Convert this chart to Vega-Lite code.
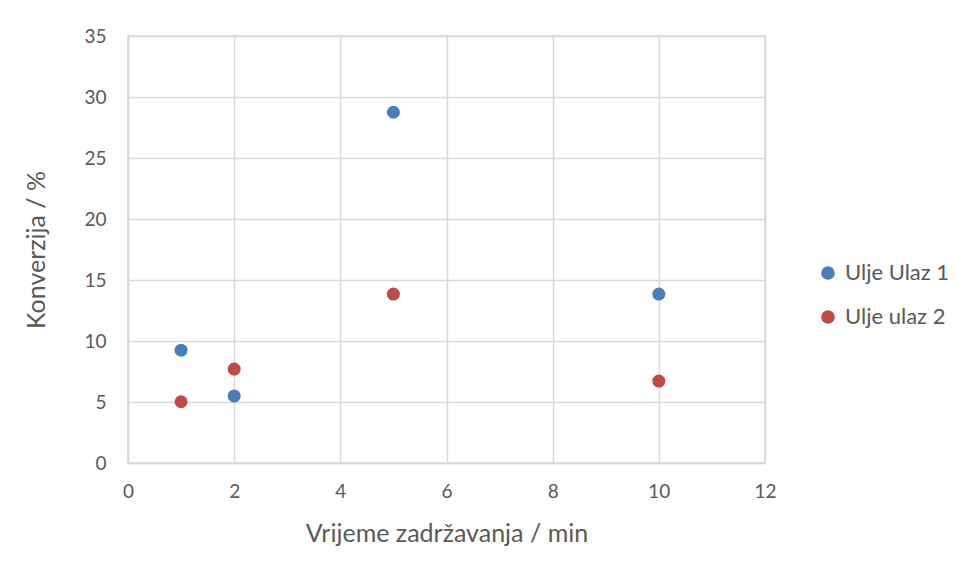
{
  "$schema": "https://vega.github.io/schema/vega-lite/v6.json",
  "width": 637,
  "height": 427,
  "autosize": {"type": "none"},
  "padding": {"left": 128, "top": 36, "right": 191, "bottom": 115},
  "background": "white",
  "data": {
    "values": [
      {"t": 1, "k": 9.25, "s": "Ulje Ulaz 1"},
      {"t": 2, "k": 5.5, "s": "Ulje Ulaz 1"},
      {"t": 5, "k": 28.75, "s": "Ulje Ulaz 1"},
      {"t": 10, "k": 13.85, "s": "Ulje Ulaz 1"},
      {"t": 1, "k": 5.02, "s": "Ulje ulaz 2"},
      {"t": 2, "k": 7.7, "s": "Ulje ulaz 2"},
      {"t": 5, "k": 13.85, "s": "Ulje ulaz 2"},
      {"t": 10, "k": 6.72, "s": "Ulje ulaz 2"}
    ]
  },
  "mark": {"type": "circle", "size": 170, "opacity": 1},
  "encoding": {
    "x": {
      "field": "t", "type": "quantitative",
      "scale": {"domain": [0, 12], "nice": false},
      "axis": {"values": [0, 2, 4, 6, 8, 10, 12], "title": "Vrijeme zadržavanja / min", "titlePadding": 20, "labelFlush": false, "labelPadding": 19}
    },
    "y": {
      "field": "k", "type": "quantitative",
      "scale": {"domain": [0, 35], "nice": false},
      "axis": {"values": [0, 5, 10, 15, 20, 25, 30, 35], "title": "Konverzija / %", "titlePadding": 34, "labelPadding": 22}
    },
    "color": {
      "field": "s", "type": "nominal",
      "scale": {"domain": ["Ulje Ulaz 1", "Ulje ulaz 2"], "range": ["#4a7ebb", "#be4b48"]},
      "legend": {
        "title": null, "orient": "none", "legendX": 689, "legendY": 226,
        "symbolType": "circle", "symbolSize": 185, "symbolOpacity": 1,
        "labelFontSize": 22, "labelColor": "#595959", "labelFont": "Lato",
        "rowPadding": 22, "labelOffset": 6
      }
    }
  },
  "config": {
    "view": {"stroke": "#d9d9d9", "strokeWidth": 1.5},
    "axis": {
      "grid": true, "gridColor": "#d9d9d9", "gridWidth": 1.5,
      "domainColor": "#d9d9d9", "domainWidth": 1.5,
      "ticks": false,
      "labelFont": "Lato", "labelFontSize": 19, "labelColor": "#595959",
      "titleFont": "Lato", "titleFontSize": 25, "titleFontWeight": "normal", "titleColor": "#595959"
    }
  }
}
